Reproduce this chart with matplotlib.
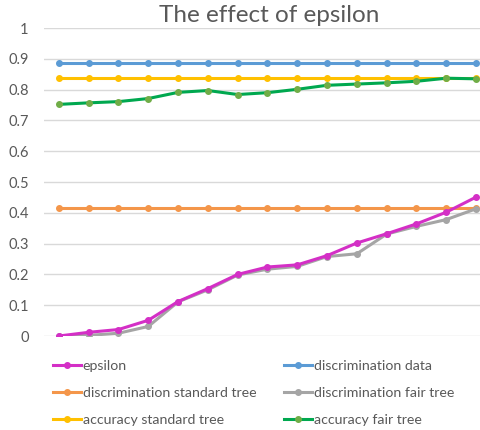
import matplotlib.pyplot as plt
import numpy as np

# Values (15 settings of epsilon)
epsilon = [0.0, 0.012, 0.021, 0.051, 0.112, 0.154, 0.2, 0.224, 0.231, 0.261, 0.302, 0.332, 0.364, 0.402, 0.451]
disc_data = [0.887] * 15
disc_standard = [0.416] * 15
disc_fair = [0.0, 0.002, 0.009, 0.031, 0.111, 0.15, 0.198, 0.217, 0.226, 0.258, 0.267, 0.331, 0.356, 0.378, 0.413]
acc_standard = [0.837] * 15
acc_fair = [0.752, 0.757, 0.761, 0.771, 0.791, 0.797, 0.784, 0.79, 0.801, 0.814, 0.818, 0.822, 0.827, 0.837, 0.835]

y_ticks = [0, 0.1, 0.2, 0.3, 0.4, 0.5, 0.6, 0.7, 0.8, 0.9, 1]
y_labels = ['0', '0.1', '0.2', '0.3', '0.4', '0.5', '0.6', '0.7', '0.8', '0.9', '1']

plt.rcParams['font.family'] = ['Lato', 'DejaVu Sans']
text_col = '#595959'

fig = plt.figure(figsize=(4.81, 4.30), dpi=100)
ax = fig.add_axes([44 / 481, 94 / 430, 447 / 481, 308 / 430])

x = np.arange(len(epsilon))
style = dict(linewidth=2.2, marker='o', markersize=4)

# series: (label, values, line colour, marker colour)
series = [
    ('epsilon', epsilon, '#D42FC6', '#D42FC6'),
    ('discrimination data', disc_data, '#5B9BD5', '#5B9BD5'),
    ('discrimination standard tree', disc_standard, '#F4964A', '#F4964A'),
    ('discrimination fair tree', disc_fair, '#A5A5A5', '#A5A5A5'),
    ('accuracy standard tree', acc_standard, '#FFC000', '#FFC000'),
    ('accuracy fair tree', acc_fair, '#00A84F', '#70AD47'),
]

handles = {}
# draw in z-order similar to the original
for label, vals, lc, mc in [series[i] for i in (1, 2, 4, 5, 3, 0)]:
    h, = ax.plot(x, vals, color=lc, markerfacecolor=mc, markeredgecolor=mc, label=label, **style)
    handles[label] = h

ax.set_xlim(-0.5, len(epsilon) - 0.5)
ax.set_ylim(0, 1)
ax.set_yticks(y_ticks)
ax.set_yticklabels(y_labels)
ax.set_xticks([])
ax.grid(axis='y', color='#D9D9D9', linewidth=1)
ax.set_axisbelow(True)
for s in ax.spines.values():
    s.set_visible(False)
ax.tick_params(axis='y', length=0, pad=11, labelsize=10.5, labelcolor=text_col)

fig.text(269 / 481, 1 - 15 / 430, 'The effect of epsilon', ha='center', va='center',
         fontsize=17.5, color=text_col)

# legend: fill column-wise so rows read epsilon | discrimination data, ...
order = ['epsilon', 'discrimination standard tree', 'accuracy standard tree',
         'discrimination data', 'discrimination fair tree', 'accuracy fair tree']
fig.legend([handles[k] for k in order], order, ncol=2, frameon=False,
           loc='upper left', bbox_to_anchor=(53 / 481, 1 - 360 / 430),
           fontsize=10.2, labelcolor=text_col, handlelength=1.95, handletextpad=0.15,
           columnspacing=1.95, labelspacing=1.05, borderaxespad=0, borderpad=0)

fig.savefig('out.png', dpi=100)
